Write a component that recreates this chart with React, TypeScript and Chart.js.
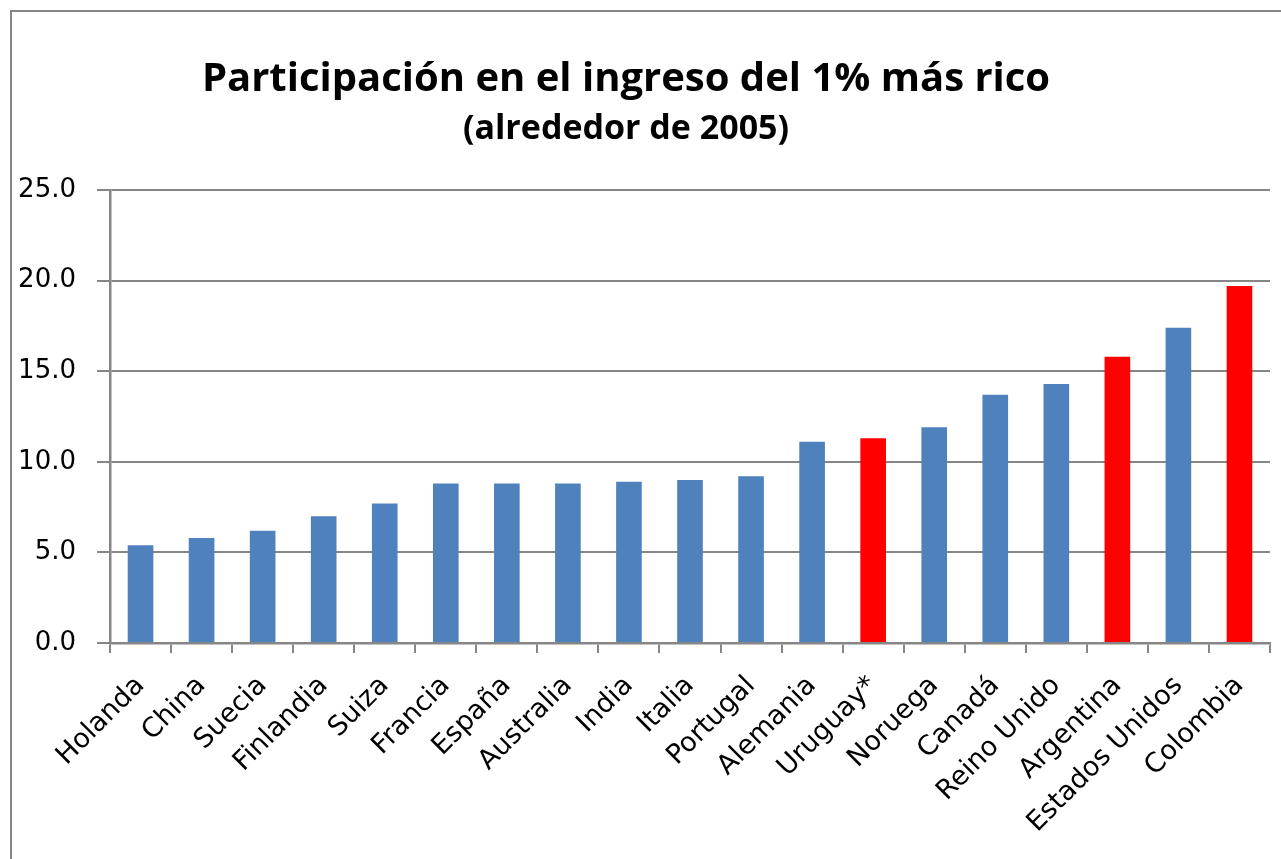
import React, { useEffect, useRef } from "react";
import { Chart, registerables } from "chart.js";

Chart.register(...registerables);

const categories = [
  "Holanda", "China", "Suecia", "Finlandia", "Suiza", "Francia", "España",
  "Australia", "India", "Italia", "Portugal", "Alemania", "Uruguay*", "Noruega",
  "Canadá", "Reino Unido", "Argentina", "Estados Unidos", "Colombia",
];
const values = [
  5.4, 5.8, 6.2, 7.0, 7.7, 8.8, 8.8, 8.8, 8.9, 9.0, 9.2, 11.1, 11.3, 11.9,
  13.7, 14.3, 15.8, 17.4, 19.7,
];
const highlighted = ["Uruguay*", "Argentina", "Colombia"];
const titleText = "Participación en el ingreso del 1% más rico";
const subtitleText = "(alrededor de 2005)";

const BLUE = "#4F81BD";
const RED = "#FF0000";
const GRID = "#868686";

export default function App() {
  const ref = useRef<HTMLCanvasElement | null>(null);

  useEffect(() => {
    const canvas = ref.current;
    if (!canvas) return;

    const frame = {
      id: "frame",
      beforeDraw(chart: any) {
        const ctx = chart.ctx;
        ctx.save();
        ctx.fillStyle = "#ffffff";
        ctx.fillRect(0, 0, chart.width, chart.height);
        ctx.strokeStyle = GRID;
        ctx.lineWidth = 2;
        ctx.strokeRect(11, 11, chart.width + 20, chart.height + 20);
        ctx.restore();
      },
      afterDraw(chart: any) {
        const ctx = chart.ctx;
        ctx.save();
        ctx.fillStyle = "#000000";
        ctx.textAlign = "center";
        ctx.textBaseline = "alphabetic";
        ctx.font = "bold 40px 'Open Sans'";
        ctx.fillText(titleText, 626, 91);
        ctx.font = "bold 34px 'Open Sans'";
        ctx.fillText(subtitleText, 626, 139);
        ctx.restore();
      },
    };

    const chart = new Chart(canvas, {
      type: "bar",
      data: {
        labels: categories,
        datasets: [
          {
            data: values,
            backgroundColor: categories.map((c) => (highlighted.includes(c) ? RED : BLUE)),
            barPercentage: 0.42,
            categoryPercentage: 1,
          },
        ],
      },
      options: {
        responsive: false,
        animation: false,
        layout: { padding: { top: 190, left: 11, right: 11, bottom: 0 } },
        plugins: {
          legend: { display: false },
          tooltip: { enabled: false },
          title: { display: false },
        },
        scales: {
          x: {
            afterFit(scale: any) {
              scale.height = 216;
            },
            grid: {
              display: true,
              drawOnChartArea: false,
              drawTicks: true,
              tickLength: 10,
              color: GRID,
              lineWidth: 2,
              offset: true,
            },
            border: { display: true, color: GRID, width: 2.5 },
            ticks: {
              autoSkip: false,
              minRotation: 45,
              maxRotation: 45,
              padding: 17,
              color: "#000000",
              font: { family: "DejaVu Sans", size: 27 },
            },
          },
          y: {
            min: 0,
            max: 25,
            afterFit(scale: any) {
              scale.width = 99;
            },
            grid: {
              color: GRID,
              lineWidth: 2,
              drawTicks: true,
              tickLength: 13,
            },
            border: { display: true, color: GRID, width: 2.5 },
            ticks: {
              stepSize: 5,
              padding: 21,
              color: "#000000",
              font: { family: "DejaVu Sans", size: 26 },
              callback: (v: any) => Number(v).toFixed(1),
            },
          },
        },
      },
      plugins: [frame],
    });

    return () => chart.destroy();
  }, []);

  return (
    <div style={{ position: "absolute", left: 0, top: 0, width: 1281, height: 859 }}>
      <canvas ref={ref} width={1281} height={859} style={{ display: "block" }} />
    </div>
  );
}
